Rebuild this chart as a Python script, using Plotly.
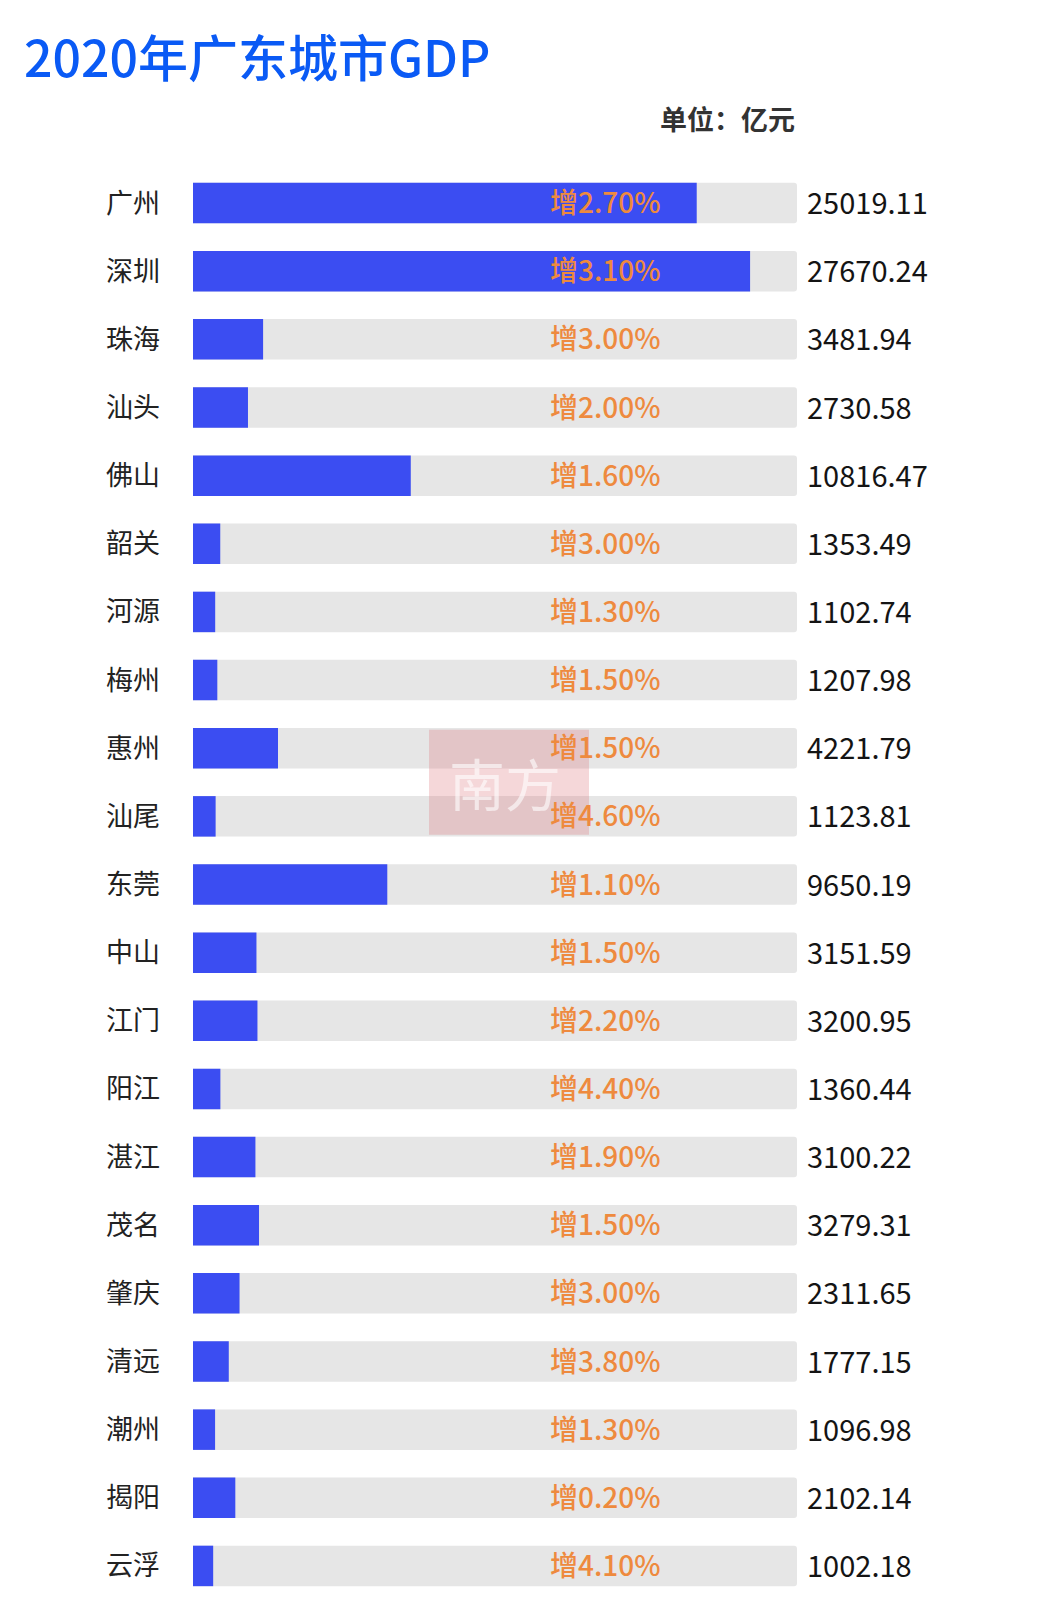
import plotly.graph_objects as go

cities = ["广州", "深圳", "珠海", "汕头", "佛山", "韶关", "河源", "梅州", "惠州", "汕尾",
          "东莞", "中山", "江门", "阳江", "湛江", "茂名", "肇庆", "清远", "潮州", "揭阳", "云浮"]
gdp = [25019.11, 27670.24, 3481.94, 2730.58, 10816.47, 1353.49, 1102.74, 1207.98, 4221.79, 1123.81,
       9650.19, 3151.59, 3200.95, 1360.44, 3100.22, 3279.31, 2311.65, 1777.15, 1096.98, 2102.14, 1002.18]
growth = ["2.70%", "3.10%", "3.00%", "2.00%", "1.60%", "3.00%", "1.30%", "1.50%", "1.50%", "4.60%",
          "1.10%", "1.50%", "2.20%", "4.40%", "1.90%", "1.50%", "3.00%", "3.80%", "1.30%", "0.20%", "4.10%"]
axis_max = 30000

W, H = 1054, 1621
L, R = 193, 797
row_top, row_pitch = 203.3, 68.15
n = len(cities)
top = row_top - row_pitch / 2
bottom = top + row_pitch * n

FONT = "Noto Sans CJK SC"
BLUE = "#3B4DF2"
TRACK = "#E6E6E6"
ORANGE = "#EE8A3E"


def px_x(p):
    return (p - L) / (R - L)


def px_y(p):
    return (bottom - p) / (bottom - top)


fig = go.Figure()
fig.add_trace(go.Bar(y=cities, x=[axis_max] * n, orientation="h",
                     marker=dict(color=TRACK, line=dict(width=0)), hoverinfo="skip"))
fig.add_trace(go.Bar(y=cities, x=gdp, orientation="h",
                     marker=dict(color=BLUE, line=dict(width=0))))

annotations = []
for c, v, g in zip(cities, gdp, growth):
    annotations.append(dict(xref="paper", yref="y", x=px_x(104), y=c, yshift=2,
                            text=c, showarrow=False, xanchor="left", yanchor="middle",
                            font=dict(family=FONT, size=27, color="#222222")))
    annotations.append(dict(xref="paper", yref="y", x=px_x(605), y=c, yshift=2,
                            text="增" + g, showarrow=False, xanchor="center", yanchor="middle",
                            font=dict(family=FONT, size=28, color=ORANGE, weight=500)))
    annotations.append(dict(xref="paper", yref="y", x=px_x(805), y=c, yshift=2,
                            text=f"{v:.2f}", showarrow=False, xanchor="left", yanchor="middle",
                            font=dict(family=FONT, size=29, color="#141414")))

annotations.append(dict(xref="paper", yref="paper", x=px_x(22), y=px_y(55),
                        text="2020年广东城市GDP", showarrow=False,
                        xanchor="left", yanchor="middle",
                        font=dict(family=FONT, size=50, color="#0A5AF5", weight=500)))
annotations.append(dict(xref="paper", yref="paper", x=1.0, y=px_y(119),
                        text="<b>单位：亿元</b>", showarrow=False,
                        xanchor="right", yanchor="middle",
                        font=dict(family=FONT, size=27, color="#333333")))

# watermark
fig.add_shape(type="rect", xref="paper", yref="paper",
              x0=px_x(429), x1=px_x(589), y0=px_y(835), y1=px_y(730),
              fillcolor="rgba(220,110,120,0.28)", line=dict(width=0), layer="above")
annotations.append(dict(xref="paper", yref="paper", x=px_x(505), y=px_y(782),
                        text="南方", showarrow=False, xanchor="center", yanchor="middle",
                        font=dict(family=FONT, size=56, color="rgba(255,255,255,0.6)")))

fig.update_layout(
    width=W, height=H,
    margin=dict(l=L, r=W - R, t=top, b=H - bottom, pad=0),
    barmode="overlay", bargap=1 - 40.5 / row_pitch, barcornerradius=3,
    plot_bgcolor="white", paper_bgcolor="white",
    showlegend=False,
    xaxis=dict(range=[0, axis_max], visible=False, fixedrange=True),
    yaxis=dict(range=[n - 0.5, -0.5], showticklabels=False, showgrid=False,
               zeroline=False, showline=False, ticks="", fixedrange=True),
    annotations=annotations,
)

fig.write_html("out.html")
